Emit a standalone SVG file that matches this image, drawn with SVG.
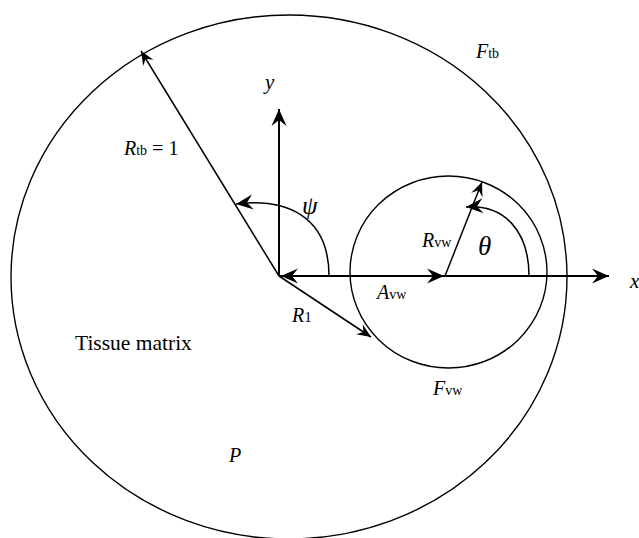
<svg xmlns="http://www.w3.org/2000/svg" width="639" height="538" viewBox="0 0 639 538">
<defs>
<style>
.c{fill:none;stroke:#000;stroke-width:1.4}
.a{fill:none;stroke:#000;stroke-width:1.5}
.ax{fill:none;stroke:#000;stroke-width:2}
text{font-family:"Liberation Serif","Times New Roman",serif;fill:#000}
.i{font-style:italic}
.s{font-size:14px}
</style>
<marker id="big" viewBox="-18 -8 20 16" markerWidth="20" markerHeight="16" refX="0" refY="0" orient="auto" markerUnits="userSpaceOnUse">
<path d="M0,0 L-17,-7.5 L-11,0 L-17,7.5 Z" fill="#000"/>
</marker>
<marker id="sm" viewBox="-15 -7 17 14" markerWidth="17" markerHeight="14" refX="0" refY="0" orient="auto" markerUnits="userSpaceOnUse">
<path d="M0,0 L-14,-6 L-9,0 L-14,6 Z" fill="#000"/>
</marker>
</defs>
<g id="tissue-boundary"><ellipse class="c" cx="289" cy="277" rx="278" ry="262"/></g>
<g id="vessel-wall"><ellipse class="c" cx="448.5" cy="272" rx="98.5" ry="96"/></g>
<g id="connectors">
<line class="ax" x1="279" y1="276" x2="279" y2="109" marker-end="url(#big)"/>
<line class="ax" x1="279" y1="276" x2="609" y2="276" marker-end="url(#big)"/>
<line class="a" x1="300" y1="276" x2="444" y2="276" marker-end="url(#big)"/>
<line class="a" x1="300" y1="276" x2="281" y2="276" marker-end="url(#big)"/>
<line class="a" x1="279" y1="276" x2="141" y2="51" marker-end="url(#sm)"/>
<line class="a" x1="279" y1="276" x2="371" y2="337" marker-end="url(#sm)"/>
<line class="a" x1="445" y1="276" x2="482" y2="182" marker-end="url(#sm)"/>
<path class="a" d="M329,276 C329,215 285,198 236,204" marker-end="url(#big)"/>
<path class="a" d="M529,276 C529,232 505,204 466,207" marker-end="url(#big)"/>
</g>
<g id="labels">
<text class="i" x="265" y="89" font-size="21">y</text>
<text x="630" y="288" font-size="21" class="i">x</text>
<text x="124" y="155" font-size="20"><tspan class="i">R</tspan><tspan class="s">tb</tspan> = 1</text>
<text x="476" y="58" font-size="20"><tspan class="i">F</tspan><tspan class="s">tb</tspan></text>
<text x="302" y="214" font-size="25" class="i">ψ</text>
<text x="478" y="255" font-size="27" class="i">θ</text>
<text x="422" y="247" font-size="20"><tspan class="i">R</tspan><tspan class="s">vw</tspan></text>
<text x="377" y="299" font-size="20"><tspan class="i">A</tspan><tspan class="s">vw</tspan></text>
<text x="292" y="322" font-size="20"><tspan class="i">R</tspan><tspan font-size="15">1</tspan></text>
<text x="75" y="350" font-size="21.5">Tissue matrix</text>
<text x="433" y="395" font-size="20"><tspan class="i">F</tspan><tspan class="s">vw</tspan></text>
<text x="229" y="462" font-size="20" class="i">P</text>
</g>
</svg>
